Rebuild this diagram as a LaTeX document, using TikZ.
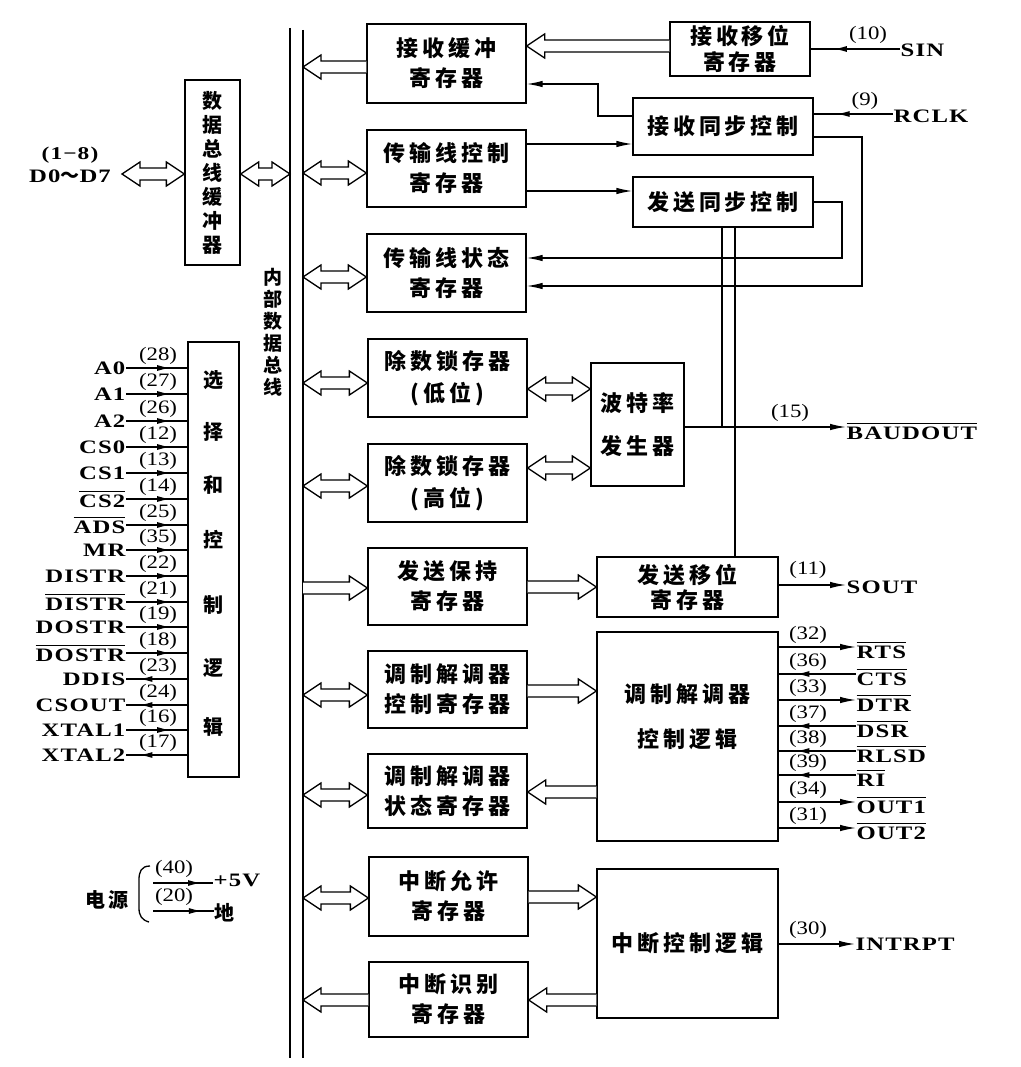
\documentclass[tikz,border=0pt]{standalone}
\usepackage{fontspec}
\setmainfont{Liberation Serif}
\newfontfamily\cjk{Noto Sans CJK SC}[LetterSpace=18]
\newfontfamily\cjkv{Noto Sans CJK SC}
\newfontfamily\latb{Liberation Serif}[FakeStretch=1.3,LetterSpace=6]
\newfontfamily\latn{Liberation Serif}[FakeStretch=1.2]
\usetikzlibrary{arrows.meta,decorations.markings,calc}
\newsavebox\ovlbox
\newcommand\ovl[1]{\sbox\ovlbox{#1}\rlap{\raisebox{\dimexpr\ht\ovlbox+3pt\relax}{\rule{\wd\ovlbox}{0.8pt}}}\usebox\ovlbox}
\def\hAs{6pt}\def\hAw{12pt}\def\hAh{18pt}
\newcommand\HDbl[2]{\draw[hollow] let \p1=(#1), \p2=(#2) in (\x1,\y1) -- (\x1+\hAh,\y1+\hAw) -- (\x1+\hAh,\y1+\hAs) -- (\x2-\hAh,\y1+\hAs) -- (\x2-\hAh,\y1+\hAw) -- (\x2,\y1) -- (\x2-\hAh,\y1-\hAw) -- (\x2-\hAh,\y1-\hAs) -- (\x1+\hAh,\y1-\hAs) -- (\x1+\hAh,\y1-\hAw) -- cycle;}
\newcommand\HR[2]{\draw[hollow] let \p1=(#1), \p2=(#2) in (\x1,\y1+\hAs) -- (\x2-\hAh,\y1+\hAs) -- (\x2-\hAh,\y1+\hAw) -- (\x2,\y1) -- (\x2-\hAh,\y1-\hAw) -- (\x2-\hAh,\y1-\hAs) -- (\x1,\y1-\hAs);}
\newcommand\HL[2]{\draw[hollow] let \p1=(#1), \p2=(#2) in (\x1,\y1+\hAs) -- (\x2+\hAh,\y1+\hAs) -- (\x2+\hAh,\y1+\hAw) -- (\x2,\y1) -- (\x2+\hAh,\y1-\hAw) -- (\x2+\hAh,\y1-\hAs) -- (\x1,\y1-\hAs);}
\begin{document}
\begin{tikzpicture}[x=1pt,y=-1pt,line width=1.3pt,
 box/.style={draw,inner sep=0pt,align=center,font=\cjk\bfseries\fontsize{22}{30}\selectfont},
 cn/.style={font=\latn\fontsize{19}{19}\selectfont,inner sep=0pt},
 sg/.style={font=\latb\bfseries\fontsize{19}{19}\selectfont,inner sep=0pt},
 arr/.style={-{Latex[length=16pt,width=6.5pt]}},
 midarr/.style={postaction={decorate},decoration={markings,mark=at position #1 with {\arrow{Latex[length=13pt,width=6pt]}}}},
 hollow/.style={draw,fill=white,line join=miter}]
\useasboundingbox[fill=white] (0,0) rectangle (1020,1067);
% bus
\coordinate (busLt) at (290,28); \coordinate (busLb) at (290,1058);
\coordinate (busRt) at (303,30); \coordinate (busRb) at (303,1058);
\draw[line width=1.6pt] (busLt) -- (busLb);
\draw[line width=1.6pt] (busRt) -- (busRb);
\node[font=\cjkv\bfseries\fontsize{19}{22}\selectfont,align=center,inner sep=0pt] (buslab) at (273,332) {内\\部\\数\\据\\总\\线};
% boxes
\node[box,font=\cjkv\bfseries\fontsize{20}{24}\selectfont,minimum width=55pt,minimum height=185pt] (buf) at (212.5,172.5) {数\\据\\总\\线\\缓\\冲\\器};
\node[box,minimum width=51pt,minimum height=435pt] (sel) at (213.5,559.5) {};
\foreach \c/\yy in {选/380,择/432,和/485,控/540,制/605,逻/668,辑/727}
  \node[font=\cjkv\bfseries\fontsize{20}{20}\selectfont,inner sep=0pt] (selch\yy) at (213.5,\yy) {\c};
\node[box,minimum width=159pt,minimum height=79pt] (rbr) at (446.5,63.5) {接收缓冲\\寄存器};
\node[box,minimum width=159pt,minimum height=77pt] (lcr) at (446.5,168.5) {传输线控制\\寄存器};
\node[box,minimum width=159pt,minimum height=78pt] (lsr) at (446.5,273) {传输线状态\\寄存器};
\node[box,minimum width=159pt,minimum height=78pt] (dll) at (447.5,378) {除数锁存器\\[2pt](低位)};
\node[box,minimum width=159pt,minimum height=78pt] (dlm) at (447.5,483) {除数锁存器\\[2pt](高位)};
\node[box,minimum width=159pt,minimum height=77pt] (thr) at (447.5,586.5) {发送保持\\寄存器};
\node[box,minimum width=159pt,minimum height=77pt] (mcr) at (447.5,689.5) {调制解调器\\控制寄存器};
\node[box,minimum width=159pt,minimum height=74pt] (msr) at (447.5,791) {调制解调器\\状态寄存器};
\node[box,minimum width=159pt,minimum height=79pt] (ier) at (448.5,896.5) {中断允许\\寄存器};
\node[box,minimum width=159pt,minimum height=75pt] (iir) at (448.5,999.5) {中断识别\\寄存器};
\node[box,font=\cjk\bfseries\fontsize{22}{26}\selectfont,minimum width=140pt,minimum height=54pt] (rsr) at (740,49) {接收移位\\寄存器};
\node[box,minimum width=180pt,minimum height=57pt] (rsc) at (723,126.5) {接收同步控制};
\node[box,minimum width=180pt,minimum height=50pt] (tsc) at (723,202) {发送同步控制};
\node[box,minimum width=93pt,minimum height=123pt] (brg) at (637.5,424.5) {波特率\\[13pt]发生器};
\node[box,font=\cjk\bfseries\fontsize{22}{25}\selectfont,minimum width=181pt,minimum height=60pt] (tsr) at (687.5,587) {发送移位\\寄存器};
\node[box,minimum width=181pt,minimum height=209pt] (mcl) at (687.5,736.5) {调制解调器\\[15pt]控制逻辑\\[12pt]};
\node[box,minimum width=181pt,minimum height=149pt] (icl) at (687.5,943.5) {中断控制逻辑};
% hollow arrows
\coordinate (dend) at (122,174);
\HDbl{dend}{buf.west |- dend}
\HDbl{buf.east |- 0,174}{busLt |- 0,174}
\HL{rsr.west |- 0,46}{rbr.east |- 0,46}
\HL{rbr.west |- 0,67}{busRt |- 0,67}
\HDbl{busRt |- 0,173}{lcr.west |- 0,173}
\HDbl{busRt |- 0,277}{lsr.west |- 0,277}
\HDbl{busRt |- 0,383}{dll.west |- 0,383}
\HDbl{busRt |- 0,486}{dlm.west |- 0,486}
\HDbl{dll.east |- 0,389}{brg.west |- 0,389}
\HDbl{dlm.east |- 0,468}{brg.west |- 0,468}
\HR{busRt |- 0,588}{thr.west |- 0,588}
\HR{thr.east |- 0,587}{tsr.west |- 0,587}
\HDbl{busRt |- 0,695}{mcr.west |- 0,695}
\HR{mcr.east |- 0,691}{mcl.west |- 0,691}
\HDbl{busRt |- 0,795}{msr.west |- 0,795}
\HL{mcl.west |- 0,792}{msr.east |- 0,792}
\HDbl{busRt |- 0,898}{ier.west |- 0,898}
\HR{ier.east |- 0,897}{icl.west |- 0,897}
\HL{iir.west |- 0,1000}{busRt |- 0,1000}
\HL{icl.west |- 0,1000}{iir.east |- 0,1000}
% D0~D7
\node[cn,font=\latb\bfseries\fontsize{18}{18}\selectfont] (d18) at (70,155) {(1−8)};
\node[sg] (dq) at (70,176) {D0{\cjkv ～}D7};
% thin connectors
\draw[arr] (rsc.west |- 0,116) -- (598,116) -- (598,84) -- (rbr.east |- 0,84);
\draw[arr] (lcr.east |- 0,144) -- (rsc.west |- 0,144);
\draw[arr] (lcr.east |- 0,191) -- (tsc.west |- 0,191);
\draw[arr] (tsc.east |- 0,202) -- (842,202) -- (842,258) -- (lsr.east |- 0,258);
\draw[arr] (rsc.east |- 0,137) -- (862,137) -- (862,286) -- (lsr.east |- 0,286);
\draw (tsc.south -| 722,0) -- (722,427);
\draw (tsc.south -| 735,0) -- (tsr.north -| 735,0);
% SIN, RCLK
\node[sg,anchor=west] (sin) at (900,50) {SIN};
\draw[midarr=0.74] (sin.west |- 0,49) -- (rsr.east |- 0,49);
\node[cn] (n10) at (868,35) {(10)};
\node[sg,anchor=west] (rclk) at (893,116) {RCLK};
\draw[midarr=0.71] (rclk.west |- 0,114) -- (rsc.east |- 0,114);
\node[cn] (n9) at (865,101) {(9)};
% BAUDOUT, SOUT, INTRPT
\node[sg,anchor=west] (baud) at (846,431) {\ovl{BAUDOUT}};
\draw[arr] (brg.east |- 0,427) -- (baud.west |- 0,427);
\node[cn] (n15) at (790,413) {(15)};
\node[sg,anchor=west] (sout) at (846,587) {SOUT};
\draw[arr] (tsr.east |- 0,585) -- (sout.west |- 0,585);
\node[cn] (n11) at (808,570) {(11)};
\node[sg,anchor=west] (intr) at (855,944) {INTRPT};
\draw[arr] (icl.east |- 0,944) -- (intr.west |- 0,944);
\node[cn] (n30) at (808,930) {(30)};
% modem pins
\foreach \yy/\lab/\num in {647/\ovl{RTS}/32, 700/\ovl{DTR}/33, 802/\ovl{OUT1}/34, 828/\ovl{OUT2}/31}{
  \node[sg,anchor=west] (M\num) at (856,\yy+3) {\lab};
  \node[cn] (Mn\num) at (808,\yy-12) {(\num)};
  \draw[arr] (mcl.east |- 0,\yy) -- (M\num.west |- 0,\yy);
}
\foreach \yy/\lab/\num in {674/\ovl{CTS}/36, 726/\ovl{DSR}/37, 751/\ovl{RLSD}/38, 775/\ovl{RI}/39}{
  \node[sg,anchor=west] (M\num) at (856,\yy+3) {\lab};
  \node[cn] (Mn\num) at (808,\yy-12) {(\num)};
  \draw[midarr=0.77] (M\num.west |- 0,\yy) -- (mcl.east |- 0,\yy);
}
% left pins
\foreach \yy/\lab/\num in {368/A0/28, 394/A1/27, 421/A2/26, 447/CS0/12, 473/CS1/13, 499/\ovl{CS2}/14, 525/\ovl{ADS}/25, 550/MR/35, 576/DISTR/22, 602/\ovl{DISTR}/21, 627/DOSTR/19, 653/\ovl{DOSTR}/18, 730/XTAL1/16}{
  \node[sg,anchor=east] (P\num) at (126,\yy) {\lab};
  \node[cn] (Pn\num) at (158,\yy-12) {(\num)};
  \draw[midarr=0.72] (P\num.east |- 0,\yy) -- (sel.west |- 0,\yy);
}
\foreach \yy/\lab/\num in {679/DDIS/23, 705/CSOUT/24, 755/XTAL2/17}{
  \node[sg,anchor=east] (P\num) at (126,\yy) {\lab};
  \node[cn] (Pn\num) at (158,\yy-12) {(\num)};
  \draw[midarr=0.78] (sel.west |- 0,\yy) -- (P\num.east |- 0,\yy);
}
% power
\node[font=\cjk\bfseries\fontsize{20}{20}\selectfont,inner sep=0pt] (pw) at (107,900) {电源};
\draw (150,866) .. controls (141,866) and (139,872) .. (139,880) -- (139,908) .. controls (139,916) and (142,920) .. (149,922);
\coordinate (p40) at (153,883);
\coordinate (p20) at (153,911);
\node[sg,anchor=west] (v5) at (213,880) {+5V};
\node[font=\cjkv\bfseries\fontsize{20}{20}\selectfont,anchor=west,inner sep=0pt] (gnd) at (214,913) {地};
\draw[midarr=0.8] (p40) -- (v5.west |- p40);
\draw[midarr=0.8] (p20) -- (gnd.west |- p20);
\node[cn] (n40) at (174,869) {(40)};
\node[cn] (n20) at (174,897) {(20)};
\end{tikzpicture}
\end{document}
